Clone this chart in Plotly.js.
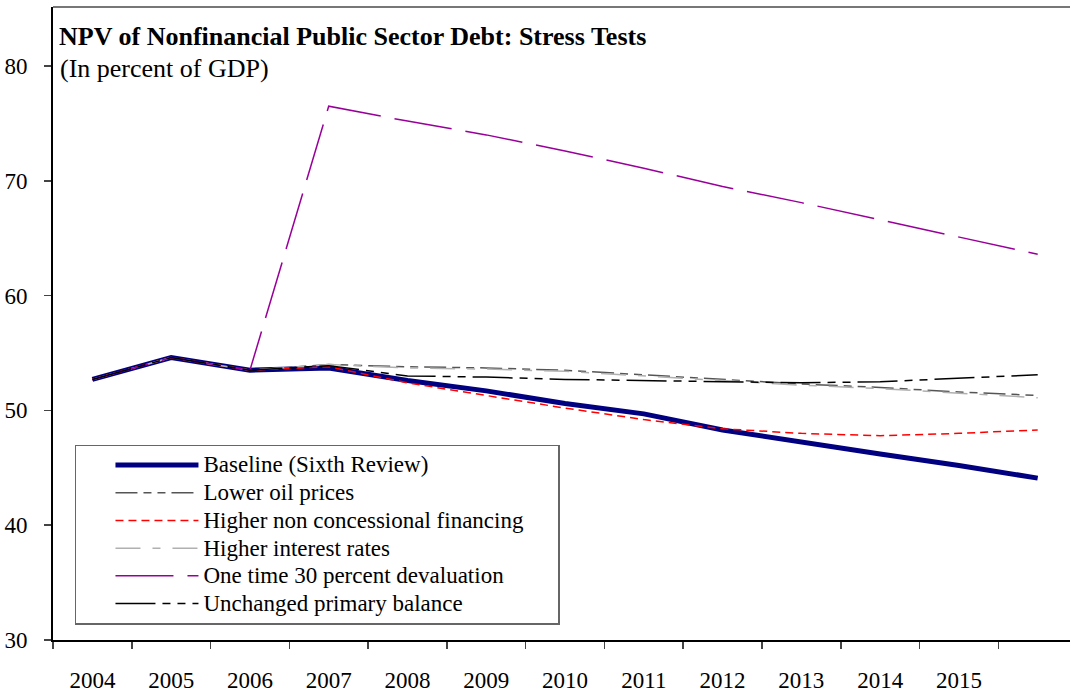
<!DOCTYPE html>
<html>
<head>
<meta charset="utf-8">
<script src="https://cdn.plot.ly/plotly-3.0.1.min.js"></script>
<style>html,body{margin:0;padding:0;background:#fff;}#chart{width:1070px;height:694px;}</style>
</head>
<body>
<div id="chart"></div>
<script>
// Years of the projection (last year has no label in the original)
const years = ['2004','2005','2006','2007','2008','2009','2010','2011','2012','2013','2014','2015','2016'];
const tickLabels = ['2004','2005','2006','2007','2008','2009','2010','2011','2012','2013','2014','2015'];

const baseline       = [52.7, 54.6, 53.5, 53.7, 52.6, 51.7, 50.6, 49.7, 48.3, 47.2, 46.2, 45.2, 44.1];
const lowerOil       = [52.7, 54.6, 53.5, 54.0, 53.8, 53.7, 53.5, 53.1, 52.7, 52.3, 52.0, 51.6, 51.3];
const higherNonConc  = [52.7, 54.6, 53.5, 53.8, 52.4, 51.3, 50.2, 49.2, 48.4, 48.0, 47.8, 48.0, 48.3];
const higherInterest = [52.7, 54.6, 53.5, 54.0, 53.7, 53.6, 53.4, 53.0, 52.6, 52.2, 51.9, 51.5, 51.1];
const devaluation    = [52.7, 54.6, 53.5, 76.5, 75.2, 74.0, 72.6, 71.1, 69.5, 68.1, 66.6, 65.1, 63.6];
const unchangedPB    = [52.7, 54.6, 53.5, 53.9, 53.0, 52.9, 52.7, 52.6, 52.5, 52.4, 52.5, 52.8, 53.1];

const seriesNames = [
  'Baseline (Sixth Review)',
  'Lower oil prices',
  'Higher non concessional financing',
  'Higher interest rates',
  'One time 30 percent devaluation',
  'Unchanged primary balance'
];

const FONT = 'Liberation Serif, Times New Roman, serif';
const legendName = n => '<span style="font-size:23px">' + n + '</span>';

const traces = [
  {y: baseline,       name: seriesNames[0], line: {color: '#000080', width: 5}},
  {y: lowerOil,       name: seriesNames[1], line: {color: '#555555', width: 1.5, dash: '22px,6px,8px,6px,8px,6px'}},
  {y: higherNonConc,  name: seriesNames[2], line: {color: '#FF0000', width: 1.5, dash: '8px,5px'}},
  {y: higherInterest, name: seriesNames[3], line: {color: '#B0B0B0', width: 1.5, dash: '25px,12px,8px,12px'}},
  {y: devaluation,    name: seriesNames[4], line: {color: '#990099', width: 1.5, dash: '58px,14px'}},
  {y: unchangedPB,    name: seriesNames[5], line: {color: '#000000', width: 1.5, dash: '40px,7px,8px,7px,8px,7px'}}
].map(t => Object.assign({x: years, type: 'scatter', mode: 'lines', hoverinfo: 'skip'}, t, {name: legendName(t.name)}));

const layout = {
  width: 1070, height: 694,
  margin: {l: 53, r: 0, t: 7, b: 54, pad: 0},
  paper_bgcolor: '#fff', plot_bgcolor: '#fff',
  font: {family: FONT, size: 22, color: '#000'},
  showlegend: true,
  title: {
    text: '<b>NPV of Nonfinancial Public Sector Debt: Stress Tests</b>',
    font: {family: FONT, size: 26, color: '#000'},
    xref: 'paper', yref: 'paper', x: 0.006, y: 0.954, xanchor: 'left', yanchor: 'middle'
  },
  annotations: [{
    text: '(In percent of GDP)', xref: 'paper', yref: 'paper', x: 0.005, y: 0.903,
    xanchor: 'left', yanchor: 'middle', showarrow: false,
    font: {family: FONT, size: 26, color: '#000'}
  }],
  xaxis: {
    type: 'category', range: [-0.5, 12.41],
    tickmode: 'array', tickvals: tickLabels, ticktext: tickLabels,
    tickson: 'boundaries', ticks: 'outside', ticklen: 7, tickwidth: 1.5, tickcolor: '#444',
    ticklabelstandoff: 18,
    showline: true, linecolor: '#000', linewidth: 2,
    showgrid: false, zeroline: false, fixedrange: true,
    tickfont: {family: FONT, size: 23, color: '#000'}
  },
  yaxis: {
    range: [30, 85.14], tickmode: 'linear', tick0: 30, dtick: 10,
    ticks: 'outside', ticklen: 7, tickwidth: 1.5, tickcolor: '#444',
    ticklabelstandoff: 12,
    showline: true, linecolor: '#000', linewidth: 2,
    showgrid: false, zeroline: false, fixedrange: true,
    tickfont: {family: FONT, size: 23, color: '#000'}
  },
  shapes: [{
    type: 'line', xref: 'paper', yref: 'paper', x0: 0, x1: 1, y0: 1, y1: 1,
    line: {color: '#777', width: 2}
  }],
  legend: {
    x: 0.0216, y: 0.3085, xanchor: 'left', yanchor: 'top',
    bgcolor: '#fff', bordercolor: '#666', borderwidth: 1.5,
    font: {family: FONT, size: 19, color: '#000'},
    itemwidth: 117, tracegroupgap: 0
  }
};

Plotly.newPlot('chart', traces, layout, {staticPlot: true, displayModeBar: false}).then(gd => {
  // stretch legend line samples to the long Excel-style swatches
  gd.querySelectorAll('.legend .legendlines path').forEach(p => p.setAttribute('d', 'M39,0h83'));
  // widen the legend frame to match the original box
  const bg = gd.querySelector('.legend rect.bg');
  if (bg) bg.setAttribute('width', parseFloat(bg.getAttribute('width')) + 29);
});
</script>
</body>
</html>
